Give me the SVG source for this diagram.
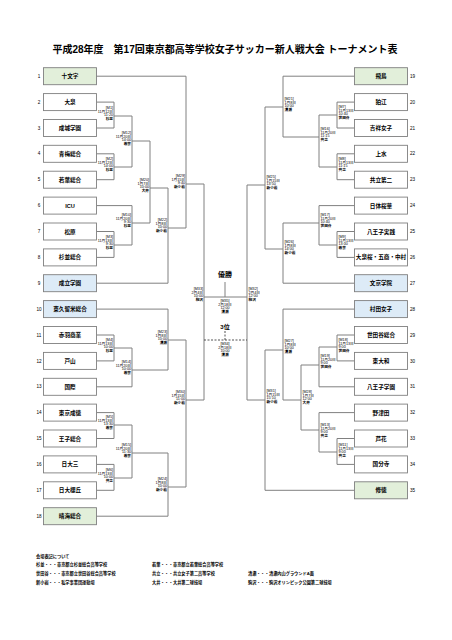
<svg xmlns="http://www.w3.org/2000/svg" width="452" height="640" viewBox="0 0 452 640">
<style>
text{font-family:"Liberation Sans","Noto Sans CJK JP",sans-serif;fill:#000}
.bx{fill:#fff;stroke:#7f7f7f;stroke-width:0.9}
.g{fill:#e2efda}
.b{fill:#ddebf7}
.nm{font-size:5.6px;font-weight:bold;text-anchor:middle}
.nl{font-size:4.6px;text-anchor:middle}
.nr{font-size:4.6px}
.ln{fill:none;stroke:#808080;stroke-width:1}
.dash{fill:none;stroke:#404040;stroke-width:0.9;stroke-dasharray:2 1.5}
.ml{font-size:3.7px;text-anchor:end}
.mr{font-size:3.7px}
.mc{font-size:3.7px;text-anchor:middle}
.v{font-weight:bold}
.ttl{font-size:10px;font-weight:bold;text-anchor:middle}
.lg{font-size:4.2px;font-weight:bold}
</style>
<rect width="452" height="640" fill="#fff"/>
<text class="ttl" x="225" y="52.5">平成28年度　第17回東京都高等学校女子サッカー新人戦大会 トーナメント表</text>

<g id="connectors">
<path class="ln" d="M96.5,76.2H186M96.5,102.1H114V128H96.5M96.5,153.8H114V179.7H96.5M96.5,205.6H132M96.5,231.5H114V257.4H96.5M96.5,283.2H168M96.5,309.1H168M96.5,335H114V360.9H96.5M96.5,386.8H132M96.5,412.6H114V438.5H96.5M96.5,464.4H114V490.3H96.5M96.5,516.2H168"/>
<path class="ln" d="M114,116H132M114,167H132M132,116V167M132,141H150M114,245H132M132,205.6V245M132,223H150M150,141V223M150,188H168M168,188V283.2M168,228H186M186,76.2V228M186,184H204M114,348H132M132,348V386.8M132,370H168M168,309.1V370M168,340H186M114,425H132M114,478H132M132,425V478M132,453H168M168,453V516.2M168,487H186M186,340V487M186,400H204M204,184V400"/>
<path class="ln" d="M354.5,76.2H283M354.5,102.1H337V128H354.5M354.5,153.8H337V179.7H354.5M354.5,205.6H319M354.5,231.5H337V257.4H354.5M354.5,283.2H283M354.5,309.1H283M354.5,335H337V360.9H354.5M354.5,386.8H319M354.5,412.6H319M354.5,438.5H337V464.4H354.5M354.5,490.3H265"/>
<path class="ln" d="M337,115H319M337,167H319M319,115V167M319,137H283M283,76.2V137M283,107H265M337,245H319M319,205.6V245M319,223H283M283,223V283.2M283,249H265M265,107V249M265,185H247M337,347H319M319,347V386.8M319,365H301M337,452H319M319,412.6V452M319,430H301M301,365V430M301,400H283M283,309.1V400M283,350H265M265,350V490.3M265,400H247M247,185V400"/>
<path class="ln" d="M204,297H247M225,282V297"/>
<path class="dash" d="M204,340H247M225,331V340"/>
</g>

<g id="n1"><rect class="bx g" x="43.5" y="67.7" width="53" height="17"/><text class="nm" x="70" y="78.2">十文字</text><text class="nl" x="39" y="77.8">1</text></g>
<g id="n2"><rect class="bx" x="43.5" y="93.6" width="53" height="17"/><text class="nm" x="70" y="104.1">大泉</text><text class="nl" x="39" y="103.7">2</text></g>
<g id="n3"><rect class="bx" x="43.5" y="119.5" width="53" height="17"/><text class="nm" x="70" y="130">成城学園</text><text class="nl" x="39" y="129.6">3</text></g>
<g id="n4"><rect class="bx" x="43.5" y="145.3" width="53" height="17"/><text class="nm" x="70" y="155.8">青梅総合</text><text class="nl" x="39" y="155.4">4</text></g>
<g id="n5"><rect class="bx" x="43.5" y="171.2" width="53" height="17"/><text class="nm" x="70" y="181.7">若葉総合</text><text class="nl" x="39" y="181.3">5</text></g>
<g id="n6"><rect class="bx" x="43.5" y="197.1" width="53" height="17"/><text class="nm" x="70" y="207.6">ICU</text><text class="nl" x="39" y="207.2">6</text></g>
<g id="n7"><rect class="bx" x="43.5" y="223" width="53" height="17"/><text class="nm" x="70" y="233.5">松原</text><text class="nl" x="39" y="233.1">7</text></g>
<g id="n8"><rect class="bx" x="43.5" y="248.9" width="53" height="17"/><text class="nm" x="70" y="259.4">杉並総合</text><text class="nl" x="39" y="259">8</text></g>
<g id="n9"><rect class="bx b" x="43.5" y="274.7" width="53" height="17"/><text class="nm" x="70" y="285.2">成立学園</text><text class="nl" x="39" y="284.8">9</text></g>
<g id="n10"><rect class="bx b" x="43.5" y="300.6" width="53" height="17"/><text class="nm" x="70" y="311.1">東久留米総合</text><text class="nl" x="39" y="310.7">10</text></g>
<g id="n11"><rect class="bx" x="43.5" y="326.5" width="53" height="17"/><text class="nm" x="70" y="337">赤羽商業</text><text class="nl" x="39" y="336.6">11</text></g>
<g id="n12"><rect class="bx" x="43.5" y="352.4" width="53" height="17"/><text class="nm" x="70" y="362.9">戸山</text><text class="nl" x="39" y="362.5">12</text></g>
<g id="n13"><rect class="bx" x="43.5" y="378.3" width="53" height="17"/><text class="nm" x="70" y="388.8">国際</text><text class="nl" x="39" y="388.4">13</text></g>
<g id="n14"><rect class="bx" x="43.5" y="404.1" width="53" height="17"/><text class="nm" x="70" y="414.6">東京成徳</text><text class="nl" x="39" y="414.2">14</text></g>
<g id="n15"><rect class="bx" x="43.5" y="430" width="53" height="17"/><text class="nm" x="70" y="440.5">王子総合</text><text class="nl" x="39" y="440.1">15</text></g>
<g id="n16"><rect class="bx" x="43.5" y="455.9" width="53" height="17"/><text class="nm" x="70" y="466.4">日大三</text><text class="nl" x="39" y="466">16</text></g>
<g id="n17"><rect class="bx" x="43.5" y="481.8" width="53" height="17"/><text class="nm" x="70" y="492.3">日大櫻丘</text><text class="nl" x="39" y="491.9">17</text></g>
<g id="n18"><rect class="bx g" x="43.5" y="507.7" width="53" height="17"/><text class="nm" x="70" y="518.2">晴海総合</text><text class="nl" x="39" y="517.8">18</text></g>

<g id="n19"><rect class="bx g" x="354.5" y="67.7" width="53" height="17"/><text class="nm" x="381" y="78.2">飛鳥</text><text class="nr" x="410" y="77.8">19</text></g>
<g id="n20"><rect class="bx" x="354.5" y="93.6" width="53" height="17"/><text class="nm" x="381" y="104.1">狛江</text><text class="nr" x="410" y="103.7">20</text></g>
<g id="n21"><rect class="bx" x="354.5" y="119.5" width="53" height="17"/><text class="nm" x="381" y="130">吉祥女子</text><text class="nr" x="410" y="129.6">21</text></g>
<g id="n22"><rect class="bx" x="354.5" y="145.3" width="53" height="17"/><text class="nm" x="381" y="155.8">上水</text><text class="nr" x="410" y="155.4">22</text></g>
<g id="n23"><rect class="bx" x="354.5" y="171.2" width="53" height="17"/><text class="nm" x="381" y="181.7">共立第二</text><text class="nr" x="410" y="181.3">23</text></g>
<g id="n24"><rect class="bx" x="354.5" y="197.1" width="53" height="17"/><text class="nm" x="381" y="207.6">日体桜華</text><text class="nr" x="410" y="207.2">24</text></g>
<g id="n25"><rect class="bx" x="354.5" y="223" width="53" height="17"/><text class="nm" x="381" y="233.5">八王子実践</text><text class="nr" x="410" y="233.1">25</text></g>
<g id="n26"><rect class="bx" x="354.5" y="248.9" width="53" height="17"/><text class="nm" x="381" y="259.4">大泉桜・五商・中村</text><text class="nr" x="410" y="259">26</text></g>
<g id="n27"><rect class="bx b" x="354.5" y="274.7" width="53" height="17"/><text class="nm" x="381" y="285.2">文京学院</text><text class="nr" x="410" y="284.8">27</text></g>
<g id="n28"><rect class="bx b" x="354.5" y="300.6" width="53" height="17"/><text class="nm" x="381" y="311.1">村田女子</text><text class="nr" x="410" y="310.7">28</text></g>
<g id="n29"><rect class="bx" x="354.5" y="326.5" width="53" height="17"/><text class="nm" x="381" y="337">世田谷総合</text><text class="nr" x="410" y="336.6">29</text></g>
<g id="n30"><rect class="bx" x="354.5" y="352.4" width="53" height="17"/><text class="nm" x="381" y="362.9">東大和</text><text class="nr" x="410" y="362.5">30</text></g>
<g id="n31"><rect class="bx" x="354.5" y="378.3" width="53" height="17"/><text class="nm" x="381" y="388.8">八王子学園</text><text class="nr" x="410" y="388.4">31</text></g>
<g id="n32"><rect class="bx" x="354.5" y="404.1" width="53" height="17"/><text class="nm" x="381" y="414.6">野津田</text><text class="nr" x="410" y="414.2">32</text></g>
<g id="n33"><rect class="bx" x="354.5" y="430" width="53" height="17"/><text class="nm" x="381" y="440.5">芦花</text><text class="nr" x="410" y="440.1">33</text></g>
<g id="n34"><rect class="bx" x="354.5" y="455.9" width="53" height="17"/><text class="nm" x="381" y="466.4">国分寺</text><text class="nr" x="410" y="466">34</text></g>
<g id="n35"><rect class="bx g" x="354.5" y="481.8" width="53" height="17"/><text class="nm" x="381" y="492.3">修徳</text><text class="nr" x="410" y="491.9">35</text></g>

<g id="matches-left" class="ml">
<text class="ml" x="113" y="109"><tspan x="113">[M1]</tspan><tspan x="113" dy="3.7">11月12日</tspan><tspan x="113" dy="3.7">11:20</tspan><tspan x="113" dy="3.7" class="v">杉並</tspan></text>
<text class="ml" x="113" y="160"><tspan x="113">[M2]</tspan><tspan x="113" dy="3.7">11月12日</tspan><tspan x="113" dy="3.7">14:00</tspan><tspan x="113" dy="3.7" class="v">杉並</tspan></text>
<text class="ml" x="131" y="134"><tspan x="131">[M12]</tspan><tspan x="131" dy="3.7">11月20日</tspan><tspan x="131" dy="3.7">14:00</tspan><tspan x="131" dy="3.7" class="v">若葉</tspan></text>
<text class="ml" x="113" y="238"><tspan x="113">[M3]</tspan><tspan x="113" dy="3.7">11月13日</tspan><tspan x="113" dy="3.7">9:30</tspan><tspan x="113" dy="3.7" class="v">杉並</tspan></text>
<text class="ml" x="131" y="216"><tspan x="131">[M10]</tspan><tspan x="131" dy="3.7">11月20日</tspan><tspan x="131" dy="3.7">9:30</tspan><tspan x="131" dy="3.7" class="v">杉並</tspan></text>
<text class="ml" x="149" y="181"><tspan x="149">[M20]</tspan><tspan x="149" dy="3.7">1月7日</tspan><tspan x="149" dy="3.7">10:00</tspan><tspan x="149" dy="3.7" class="v">大井</tspan></text>
<text class="ml" x="167" y="221"><tspan x="167">[M22]</tspan><tspan x="167" dy="3.7">1月8日</tspan><tspan x="167" dy="3.7">10:00</tspan><tspan x="167" dy="3.7" class="v">新小岩</tspan></text>
<text class="ml" x="185" y="177"><tspan x="185">[M29]</tspan><tspan x="185" dy="3.7">1月15日</tspan><tspan x="185" dy="3.7">9:40</tspan><tspan x="185" dy="3.7" class="v">新小岩</tspan></text>
<text class="ml" x="113" y="341"><tspan x="113">[M4]</tspan><tspan x="113" dy="3.7">11月13日</tspan><tspan x="113" dy="3.7">10:00</tspan><tspan x="113" dy="3.7" class="v">杉並</tspan></text>
<text class="ml" x="131" y="363"><tspan x="131">[M14]</tspan><tspan x="131" dy="3.7">11月20日</tspan><tspan x="131" dy="3.7">10:00</tspan><tspan x="131" dy="3.7" class="v">若葉</tspan></text>
<text class="ml" x="167" y="333"><tspan x="167">[M23]</tspan><tspan x="167" dy="3.7">1月8日</tspan><tspan x="167" dy="3.7">10:00</tspan><tspan x="167" dy="3.7" class="v">清瀬</tspan></text>
<text class="ml" x="113" y="418"><tspan x="113">[M5]</tspan><tspan x="113" dy="3.7">11月13日</tspan><tspan x="113" dy="3.7">13:30</tspan><tspan x="113" dy="3.7" class="v">若葉</tspan></text>
<text class="ml" x="113" y="471"><tspan x="113">[M6]</tspan><tspan x="113" dy="3.7">11月13日</tspan><tspan x="113" dy="3.7">10:00</tspan><tspan x="113" dy="3.7" class="v">共立</tspan></text>
<text class="ml" x="131" y="446"><tspan x="131">[M15]</tspan><tspan x="131" dy="3.7">11月20日</tspan><tspan x="131" dy="3.7">11:30</tspan><tspan x="131" dy="3.7" class="v">若葉</tspan></text>
<text class="ml" x="167" y="480"><tspan x="167">[M24]</tspan><tspan x="167" dy="3.7">1月8日</tspan><tspan x="167" dy="3.7">10:00</tspan><tspan x="167" dy="3.7" class="v">新小岩</tspan></text>
<text class="ml" x="185" y="393"><tspan x="185">[M30]</tspan><tspan x="185" dy="3.7">1月15日</tspan><tspan x="185" dy="3.7">11:00</tspan><tspan x="185" dy="3.7" class="v">新小岩</tspan></text>
<text class="ml" x="203" y="290"><tspan x="203">[M33]</tspan><tspan x="203" dy="3.7">2月4日</tspan><tspan x="203" dy="3.7">10:00</tspan><tspan x="203" dy="3.7" class="v">駒沢</tspan></text>
</g>

<g id="matches-right">
<text class="mr" x="338.5" y="108"><tspan x="338.5">[M7]</tspan><tspan x="338.5" dy="3.7">11月13日</tspan><tspan x="338.5" dy="3.7">10:40</tspan><tspan x="338.5" dy="3.7" class="v">世田谷</tspan></text>
<text class="mr" x="338.5" y="160"><tspan x="338.5">[M8]</tspan><tspan x="338.5" dy="3.7">11月13日</tspan><tspan x="338.5" dy="3.7">11:15</tspan><tspan x="338.5" dy="3.7" class="v">共立</tspan></text>
<text class="mr" x="320.5" y="130"><tspan x="320.5">[M16]</tspan><tspan x="320.5" dy="3.7">11月20日</tspan><tspan x="320.5" dy="3.7">11:15</tspan><tspan x="320.5" dy="3.7" class="v">共立</tspan></text>
<text class="mr" x="284.5" y="100"><tspan x="284.5">[M21]</tspan><tspan x="284.5" dy="3.7">1月8日</tspan><tspan x="284.5" dy="3.7">10:00</tspan><tspan x="284.5" dy="3.7" class="v">清瀬</tspan></text>
<text class="mr" x="338.5" y="238"><tspan x="338.5">[M9]</tspan><tspan x="338.5" dy="3.7">11月13日</tspan><tspan x="338.5" dy="3.7">13:00</tspan><tspan x="338.5" dy="3.7" class="v">若葉</tspan></text>
<text class="mr" x="320.5" y="216"><tspan x="320.5">[M17]</tspan><tspan x="320.5" dy="3.7">11月20日</tspan><tspan x="320.5" dy="3.7">10:40</tspan><tspan x="320.5" dy="3.7" class="v">世田谷</tspan></text>
<text class="mr" x="284.5" y="243"><tspan x="284.5">[M26]</tspan><tspan x="284.5" dy="3.7">1月8日</tspan><tspan x="284.5" dy="3.7">14:00</tspan><tspan x="284.5" dy="3.7" class="v">新小岩</tspan></text>
<text class="mr" x="266.5" y="178"><tspan x="266.5">[M25]</tspan><tspan x="266.5" dy="3.7">1月15日</tspan><tspan x="266.5" dy="3.7">13:50</tspan><tspan x="266.5" dy="3.7" class="v">新小岩</tspan></text>
<text class="mr" x="248.5" y="290"><tspan x="248.5">[M32]</tspan><tspan x="248.5" dy="3.7">2月4日</tspan><tspan x="248.5" dy="3.7">12:00</tspan><tspan x="248.5" dy="3.7" class="v">駒沢</tspan></text>
<text class="mr" x="284.5" y="342"><tspan x="284.5">[M27]</tspan><tspan x="284.5" dy="3.7">1月8日</tspan><tspan x="284.5" dy="3.7">10:00</tspan><tspan x="284.5" dy="3.7" class="v">清瀬</tspan></text>
<text class="mr" x="338.5" y="341"><tspan x="338.5">[M18]</tspan><tspan x="338.5" dy="3.7">11月13日</tspan><tspan x="338.5" dy="3.7">9:00</tspan><tspan x="338.5" dy="3.7" class="v">世田谷</tspan></text>
<text class="mr" x="320.5" y="357"><tspan x="320.5">[M19]</tspan><tspan x="320.5" dy="3.7">11月20日</tspan><tspan x="320.5" dy="3.7">9:00</tspan><tspan x="320.5" dy="3.7" class="v">世田谷</tspan></text>
<text class="mr" x="302.5" y="393"><tspan x="302.5">[M28]</tspan><tspan x="302.5" dy="3.7">1月7日</tspan><tspan x="302.5" dy="3.7">12:00</tspan><tspan x="302.5" dy="3.7" class="v">大井</tspan></text>
<text class="mr" x="266.5" y="392"><tspan x="266.5">[M31]</tspan><tspan x="266.5" dy="3.7">1月15日</tspan><tspan x="266.5" dy="3.7">15:10</tspan><tspan x="266.5" dy="3.7" class="v">新小岩</tspan></text>
<text class="mr" x="320.5" y="426"><tspan x="320.5">[M13]</tspan><tspan x="320.5" dy="3.7">11月20日</tspan><tspan x="320.5" dy="3.7">9:00</tspan><tspan x="320.5" dy="3.7" class="v">共立</tspan></text>
<text class="mr" x="338.5" y="446"><tspan x="338.5">[M11]</tspan><tspan x="338.5" dy="3.7">11月13日</tspan><tspan x="338.5" dy="3.7">9:00</tspan><tspan x="338.5" dy="3.7" class="v">共立</tspan></text>
</g>

<g id="final">
<text x="225" y="277" style="font-size:7px;font-weight:bold;text-anchor:middle">優勝</text>
<text class="mc" x="225" y="302"><tspan x="225">[M35]</tspan><tspan x="225" dy="3.7">2月18日</tspan><tspan x="225" dy="3.7">12:00</tspan><tspan x="225" dy="3.7" class="v">清瀬</tspan></text>
</g>
<g id="third">
<text x="225" y="329" style="font-size:6px;font-weight:bold;text-anchor:middle">3位</text>
<text class="mc" x="225" y="345"><tspan x="225">[M34]</tspan><tspan x="225" dy="3.7">2月18日</tspan><tspan x="225" dy="3.7">10:00</tspan><tspan x="225" dy="3.7" class="v">清瀬</tspan></text>
</g>

<g id="legend" class="lg">
<text class="lg" x="36" y="557.5">会場表記について</text>
<text class="lg" x="36" y="566">杉並・・・東京都立杉並総合高等学校</text>
<text class="lg" x="152" y="566">若葉・・・東京都立若葉総合高等学校</text>
<text class="lg" x="36" y="575">世田谷・・・東京都立世田谷総合高等学校</text>
<text class="lg" x="152" y="575">共立・・・共立女子第二高等学校</text>
<text class="lg" x="248" y="575">清瀬・・・清瀬内山グラウンドA面</text>
<text class="lg" x="36" y="584">新小岩・・・私学事業団運動場</text>
<text class="lg" x="152" y="584">大井・・・大井第二球技場</text>
<text class="lg" x="248" y="584">駒沢・・・駒沢オリンピック公園第二球技場</text>
</g>
</svg>
